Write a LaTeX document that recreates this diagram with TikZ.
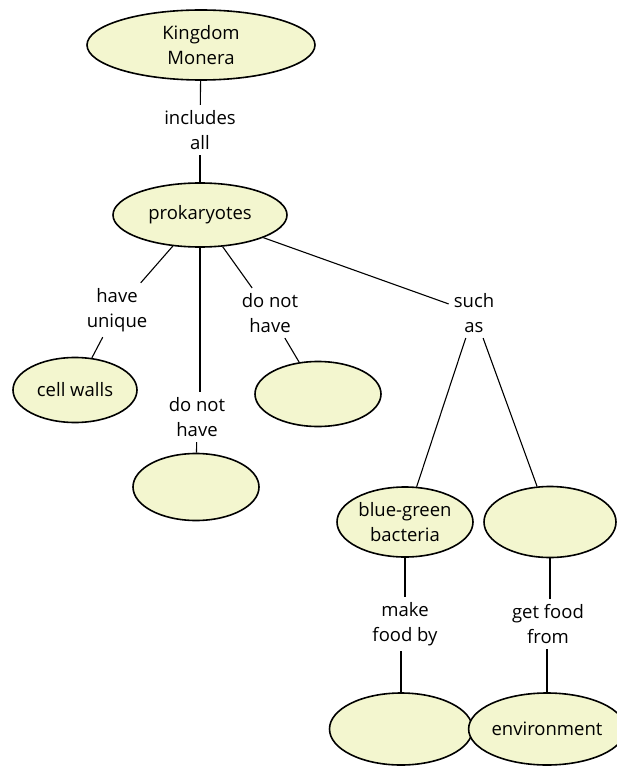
\documentclass[tikz,border=0pt]{standalone}
\usepackage{fontspec}
\setmainfont{Open Sans}
\usetikzlibrary{shapes.geometric}
\definecolor{nodefill}{RGB}{243,246,207}
\begin{document}
\begin{tikzpicture}[x=1pt,y=-1pt,
  concept/.style={ellipse, draw=black, line width=1.6pt, fill=nodefill, inner sep=0pt, align=center, font=\fontsize{18.5}{25.5}\selectfont},
  linklabel/.style={inner sep=5pt, align=center, font=\fontsize{18.5}{25.5}\selectfont},
  link/.style={line width=1.1pt}]
\path[use as bounding box, fill=white] (0,0) rectangle (616,767);
% concepts
\node[concept, minimum width=228pt, minimum height=70pt] (km) at (201,45) {Kingdom\\Monera};
\node[concept, minimum width=174pt, minimum height=64pt] (prok) at (200,215) {prokaryotes};
\node[concept, minimum width=124pt, minimum height=65pt] (cw) at (75,390) {cell walls};
\node[concept, minimum width=126pt, minimum height=67pt] (e1) at (196,487) {};
\node[concept, minimum width=126pt, minimum height=65pt] (e2) at (318,394) {};
\node[concept, minimum width=136pt, minimum height=70pt] (bg) at (405,522) {blue-green\\bacteria};
\node[concept, minimum width=132pt, minimum height=71pt] (e3) at (550,522) {};
\node[concept, minimum width=143pt, minimum height=72pt] (e4) at (401,729) {};
\node[concept, minimum width=140pt, minimum height=72pt] (env) at (547,729) {environment};
% link labels
\node[linklabel] (l1) at (200,130) {includes\\all};
\node[linklabel] (l2) at (117,310) {have\\unique};
\node[linklabel] (l3) at (197,417) {do not\\have};
\node[linklabel] (l4) at (270,313) {do not\\have};
\node[linklabel] (l5) at (474,313) {such\\as};
\node[linklabel] (l6) at (405,624) {make\\food by};
\node[linklabel] (l7) at (548,624) {get food\\from};
% connectors
\draw[link] (km) -- (l1);
\draw[link] (l1) -- (prok);
\draw[link] (prok) -- (l2);
\draw[link] (l2) -- (cw);
\draw[link] (prok.south) -- (prok.south |- l3.north);
\draw[link] (l3) -- (e1);
\draw[link] (prok) -- (l4);
\draw[link] (l4) -- (e2);
\draw[link] (prok) -- (l5);
\draw[link] (l5) -- (bg);
\draw[link] (l5) -- (e3);
\draw[link] (bg.south) -- (l6.north -| bg.south);
\draw[link] (l6.south -| e4.north) -- (e4.north);
\draw[link] (e3.south) -- (l7.north -| e3.south);
\draw[link] (l7.south -| env.north) -- (env.north);
\end{tikzpicture}
\end{document}
